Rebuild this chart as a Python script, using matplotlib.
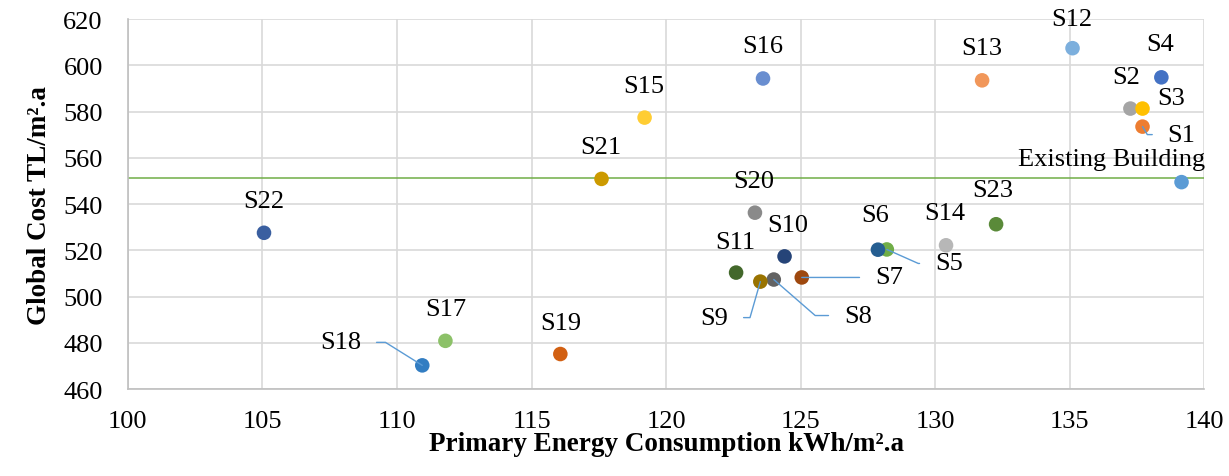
import matplotlib.pyplot as plt

# scenario data
names = ["Existing Building", "S1", "S2", "S3", "S4", "S5", "S6", "S7", "S8",
         "S9", "S10", "S11", "S12", "S13", "S14", "S15", "S16", "S17", "S18",
         "S19", "S20", "S21", "S22", "S23"]
energy = [139.15, 137.7, 137.25, 137.7, 138.4, 128.2, 127.87, 125.04, 124.0,
          123.5, 124.4, 122.6, 135.1, 131.74, 130.4, 119.2, 123.6, 111.8,
          110.94, 116.07, 123.3, 117.6, 105.06, 132.26]
cost = [549.5, 573.5, 581.3, 581.3, 594.8, 520.4, 520.3, 508.3, 507.4,
        506.5, 517.4, 510.4, 607.4, 593.5, 522.2, 577.4, 594.3, 480.9,
        470.3, 475.2, 536.3, 550.9, 527.6, 531.3]
existing_cost = 551.5

colors = ["#5B9BD5", "#ED7D31", "#A5A5A5", "#FFC000", "#4472C4", "#70AD47",
          "#255E91", "#9E480E", "#636363", "#997300", "#264478", "#43682B",
          "#7CAFDD", "#F1975A", "#B7B7B7", "#FFCD33", "#698ED0", "#8CC168",
          "#327DC2", "#D26012", "#8A8A8A", "#CC9A00", "#3A5FA0", "#5A8A39"]

# label offsets in pixels (dx, dy, ha) and leader angle (None = no leader)
label_pos = {
    "Existing Building": (24, 23, "right", None),
    "S1": (25, -8, "left", 121),
    "S2": (-4, 32, "center", None),
    "S3": (29, 11, "center", None),
    "S4": (-1, 33, "center", None),
    "S5": (48, -14, "left", -24),
    "S6": (-3, 35, "center", None),
    "S7": (73, 0, "left", 0),
    "S8": (70, -36, "left", -41),
    "S9": (-32, -36, "right", 74),
    "S10": (3, 31, "center", None),
    "S11": (-1, 31, "center", None),
    "S12": (-1, 29, "center", None),
    "S13": (0, 32, "center", None),
    "S14": (-1, 32, "center", None),
    "S15": (-1, 32, "center", None),
    "S16": (0, 32, "center", None),
    "S17": (0, 32, "center", None),
    "S18": (-61, 23, "right", 148),
    "S19": (0, 31, "center", None),
    "S20": (-1, 32, "center", None),
    "S21": (-1, 32, "center", None),
    "S22": (0, 32, "center", None),
    "S23": (-3, 34, "center", None),
}

plt.rcParams["font.family"] = ["Liberation Serif", "DejaVu Serif"]

fig = plt.figure(figsize=(12.29, 4.77), dpi=100)
ax = fig.add_axes([0.104, 0.182, 0.876, 0.776])

ax.axhline(existing_cost, color="#70AD47", lw=1.1, zorder=2)
ax.scatter(energy, cost, s=110, c=colors, zorder=3, linewidths=0)

for name, x, y in zip(names, energy, cost):
    dx, dy, ha, ang = label_pos[name]
    kw = {}
    if ang is not None:
        rel = (0, 0.5) if ha == "left" else (1, 0.5)
        if ang == 0:
            cs = "arc3,rad=0"
        else:
            cs = f"angle,angleA=0,angleB={ang},rad=0"
        kw["arrowprops"] = dict(arrowstyle="-", color="#5B9BD5", lw=1,
                                connectionstyle=cs, relpos=rel,
                                shrinkA=9, shrinkB=0)
    ax.annotate(name, (x, y), xytext=(dx, dy), textcoords="offset pixels",
                ha=ha, va="center", fontsize=19, zorder=4, **kw)

ax.set_xlim(100, 140)
ax.set_ylim(460, 620)
ax.set_xticks(range(100, 141, 5))
ax.set_yticks(range(460, 621, 20))
ax.grid(True, color="#D9D9D9", lw=1.2, zorder=0)
ax.set_axisbelow(True)
for side in ["top", "right"]:
    ax.spines[side].set_visible(False)
ax.spines["left"].set_color("#BFBFBF")
ax.spines["bottom"].set_color("#BFBFBF")
ax.spines["left"].set_linewidth(1.2)
ax.spines["bottom"].set_linewidth(1.2)
ax.tick_params(length=0, labelsize=19, pad=15, colors="black")
ax.tick_params(axis="y", pad=18)

ax.set_xlabel("Primary Energy Consumption kWh/m².a", fontsize=19.5,
              fontweight="bold", labelpad=-1)
ax.set_ylabel("Global Cost TL/m².a", fontsize=19.5, fontweight="bold",
              labelpad=8)

fig.savefig("out.png", dpi=100)
